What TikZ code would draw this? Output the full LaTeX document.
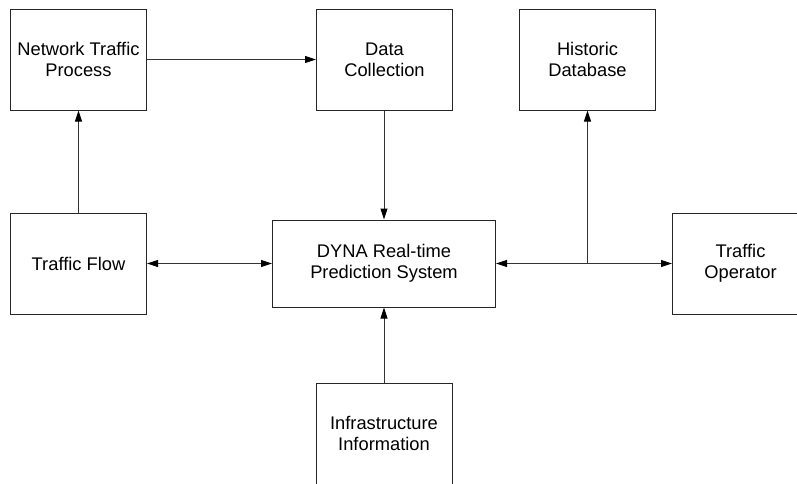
\documentclass[tikz,border=0pt]{standalone}
\usepackage{fontspec}
\setmainfont{Liberation Sans}
\usetikzlibrary{arrows.meta}
\tikzset{
  blockbox/.style={draw=black!85, line width=1pt, fill=white, inner sep=0pt,
    align=center, font=\fontsize{18.3}{21}\selectfont,
    minimum width=136pt, minimum height=101pt},
  tip/.tip={Triangle[length=11pt,width=7pt,fill=black,color=black]},
  flow/.style={draw=black!80, line width=1pt, -tip},
  dflow/.style={draw=black!80, line width=1pt, tip-tip}
}
\begin{document}
\begin{tikzpicture}[x=1pt,y=-1pt]
  \useasboundingbox (0,0) rectangle (797,483);
  \clip (0,0) rectangle (797,483);

  % blocks
  \node[blockbox] (ntp)   at (78.5,59.5)  {Network Traffic\\Process};
  \node[blockbox] (dc)    at (384.5,59.5) {Data\\Collection};
  \node[blockbox] (hd)    at (587.5,59.5) {Historic\\Database};
  \node[blockbox] (tf)    at (78.5,263.5) {Traffic Flow};
  \node[blockbox, minimum width=223pt, minimum height=87pt] (dyna) at (384,263.5)
        {DYNA Real-time\\Prediction System};
  \node[blockbox] (to)    at (740.5,263.5) {Traffic\\Operator};
  \node[blockbox] (infra) at (384,433.5) {Infrastructure\\Information};

  % junction on the operator link
  \coordinate (j) at (587.5,263.5);

  % connectors
  \draw[flow] (ntp.east) -- (dc.west);
  \draw[flow] (tf.north) -- (ntp.south);
  \draw[flow] (dc.south -| dyna.north) -- (dyna.north);
  \draw[flow] (infra.north) -- (dyna.south);
  \draw[dflow] (tf.east) -- (dyna.west);
  \draw[flow] (j) -- (dyna.east);
  \draw[flow] (j) -- (to.west);
  \draw[flow] (j) -- (hd.south);
\end{tikzpicture}
\end{document}
